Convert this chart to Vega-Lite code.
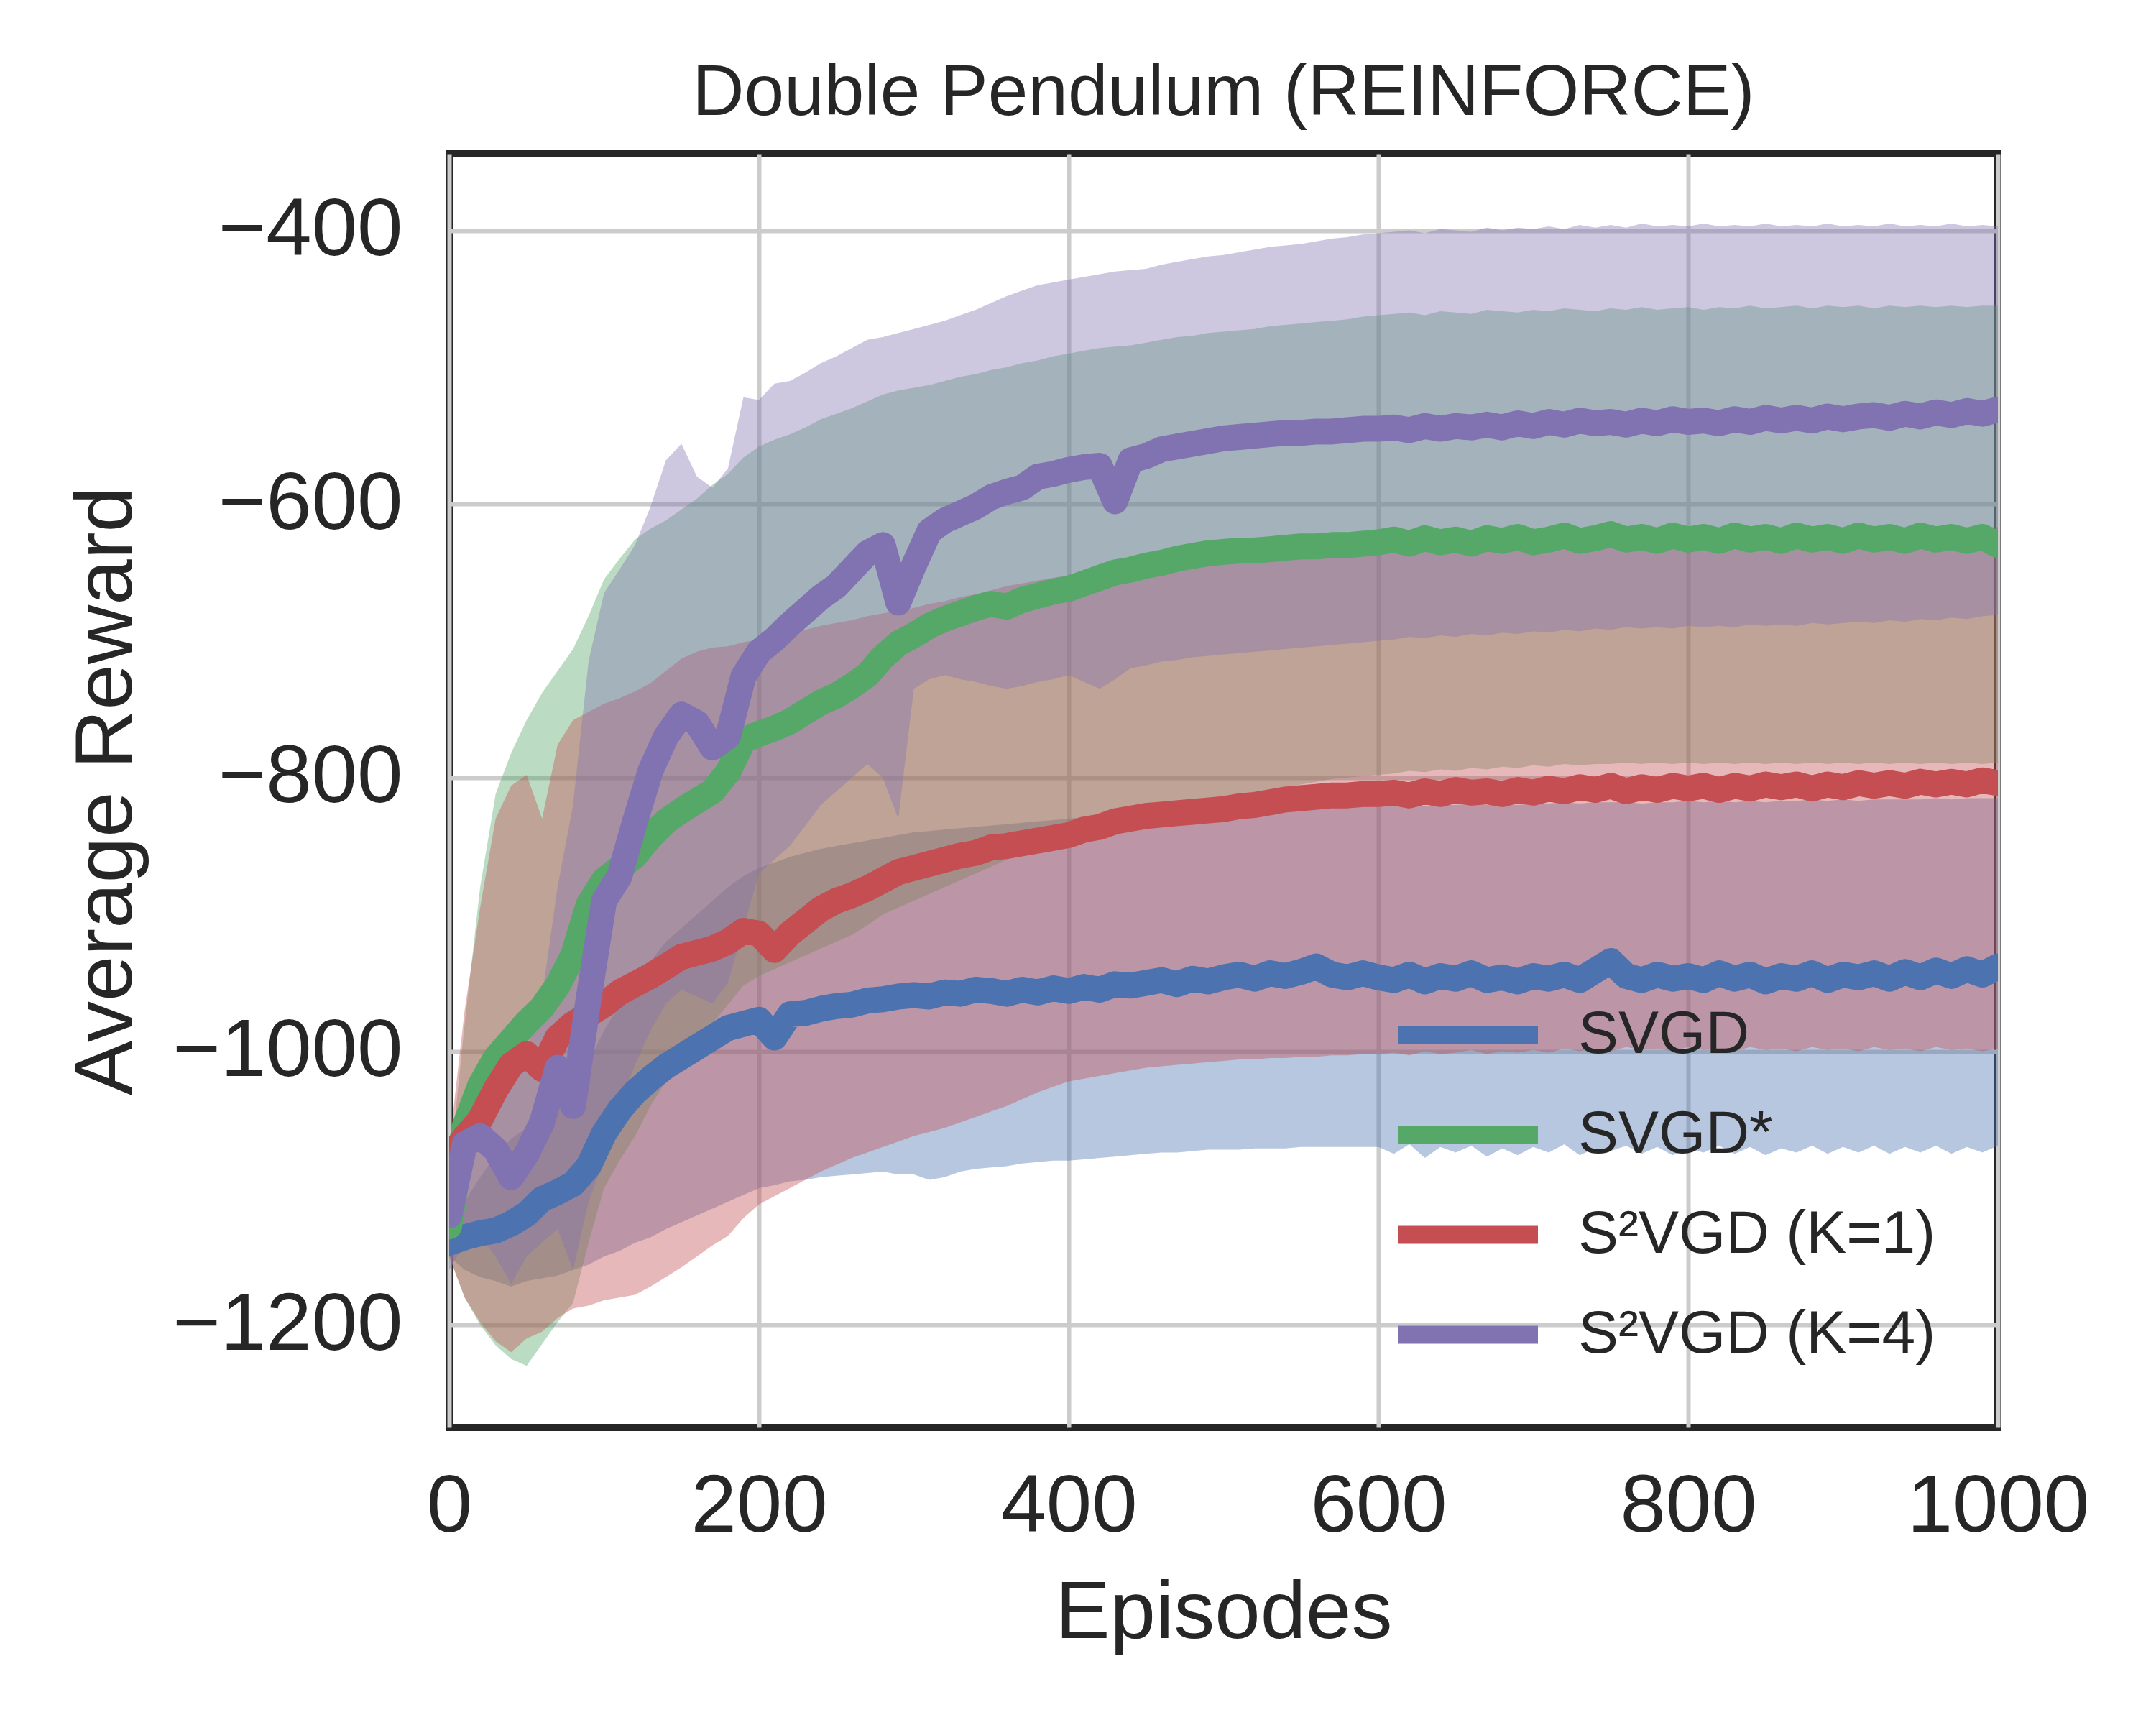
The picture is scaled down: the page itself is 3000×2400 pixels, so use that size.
{
  "$schema": "https://vega.github.io/schema/vega-lite/v6.json",
  "width": 2155,
  "height": 1772,
  "autosize": {"type": "none"},
  "padding": {"left": 625, "top": 214, "right": 220, "bottom": 414},
  "background": "white",
  "title": {
    "text": "Double Pendulum (REINFORCE)",
    "font": "Liberation Sans",
    "fontSize": 100,
    "fontWeight": "normal",
    "color": "#262626",
    "baseline": "alphabetic",
    "anchor": "middle",
    "offset": 46,
    "dy": 92
  },
  "config": {
    "view": {"stroke": "#262626", "strokeWidth": 10},
    "axis": {
      "grid": true,
      "gridColor": "#cccccc",
      "gridWidth": 6,
      "domain": false,
      "ticks": false,
      "labelLimit": 0,
      "format": "d",
      "labelFont": "Liberation Sans",
      "labelFontSize": 114,
      "labelColor": "#262626",
      "titleFont": "Liberation Sans",
      "titleFontSize": 114,
      "titleFontWeight": "normal",
      "titleColor": "#262626"
    },
    "legend": {
      "labelFont": "Liberation Sans",
      "labelFontSize": 84,
      "labelColor": "#262626",
      "labelLimit": 0,
      "symbolType": "M-1,0H8.75",
      "symbolSize": 1600,
      "symbolStrokeWidth": 25,
      "symbolOpacity": 1,
      "labelOffset": 189,
      "rowPadding": 39,
      "padding": 0
    }
  },
  "data": {
    "values": [
      {"ep":0,"svgd":-1140,"svgd_lo":-1150,"svgd_hi":-1130,"svgds":-1128,"svgds_lo":-1150,"svgds_hi":-1090,"k1":-1078,"k1_lo":-1150,"k1_hi":-1070,"k4":-1120,"k4_lo":-1160,"k4_hi":-1090},
      {"ep":10,"svgd":-1136,"svgd_lo":-1160,"svgd_hi":-1110,"svgds":-1055,"svgds_lo":-1180,"svgds_hi":-980,"k1":-1063,"k1_lo":-1180,"k1_hi":-970,"k4":-1068,"k4_lo":-1140,"k4_hi":-1030},
      {"ep":20,"svgd":-1133,"svgd_lo":-1165,"svgd_hi":-1092,"svgds":-1025,"svgds_lo":-1200,"svgds_hi":-880,"k1":-1050,"k1_lo":-1198,"k1_hi":-895,"k4":-1062,"k4_lo":-1135,"k4_hi":-1010},
      {"ep":30,"svgd":-1131,"svgd_lo":-1168,"svgd_hi":-1076,"svgds":-1005,"svgds_lo":-1215,"svgds_hi":-812,"k1":-1028,"k1_lo":-1212,"k1_hi":-830,"k4":-1072,"k4_lo":-1150,"k4_hi":-1000},
      {"ep":40,"svgd":-1126,"svgd_lo":-1172,"svgd_hi":-1064,"svgds":-992,"svgds_lo":-1225,"svgds_hi":-782,"k1":-1010,"k1_lo":-1220,"k1_hi":-806,"k4":-1092,"k4_lo":-1170,"k4_hi":-1020},
      {"ep":50,"svgd":-1119,"svgd_lo":-1168,"svgd_hi":-1056,"svgds":-979,"svgds_lo":-1230,"svgds_hi":-758,"k1":-1002,"k1_lo":-1210,"k1_hi":-798,"k4":-1075,"k4_lo":-1150,"k4_hi":-1000},
      {"ep":60,"svgd":-1108,"svgd_lo":-1166,"svgd_hi":-1045,"svgds":-968,"svgds_lo":-1214,"svgds_hi":-738,"k1":-1013,"k1_lo":-1205,"k1_hi":-830,"k4":-1052,"k4_lo":-1140,"k4_hi":-960},
      {"ep":70,"svgd":-1103,"svgd_lo":-1164,"svgd_hi":-1034,"svgds":-952,"svgds_lo":-1198,"svgds_hi":-722,"k1":-990,"k1_lo":-1195,"k1_hi":-776,"k4":-1012,"k4_lo":-1130,"k4_hi":-880},
      {"ep":80,"svgd":-1097,"svgd_lo":-1160,"svgd_hi":-1024,"svgds":-930,"svgds_lo":-1184,"svgds_hi":-706,"k1":-980,"k1_lo":-1188,"k1_hi":-758,"k4":-1040,"k4_lo":-1160,"k4_hi":-820},
      {"ep":90,"svgd":-1084,"svgd_lo":-1156,"svgd_hi":-1008,"svgds":-893,"svgds_lo":-1140,"svgds_hi":-682,"k1":-973,"k1_lo":-1186,"k1_hi":-752,"k4":-962,"k4_lo":-1110,"k4_hi":-715},
      {"ep":100,"svgd":-1060,"svgd_lo":-1150,"svgd_hi":-985,"svgds":-875,"svgds_lo":-1100,"svgds_hi":-655,"k1":-966,"k1_lo":-1182,"k1_hi":-746,"k4":-890,"k4_lo":-1080,"k4_hi":-665},
      {"ep":110,"svgd":-1043,"svgd_lo":-1146,"svgd_hi":-966,"svgds":-866,"svgds_lo":-1080,"svgds_hi":-640,"k1":-957,"k1_lo":-1180,"k1_hi":-742,"k4":-872,"k4_lo":-1040,"k4_hi":-648},
      {"ep":120,"svgd":-1030,"svgd_lo":-1140,"svgd_hi":-950,"svgds":-857,"svgds_lo":-1062,"svgds_hi":-626,"k1":-951,"k1_lo":-1178,"k1_hi":-737,"k4":-832,"k4_lo":-1010,"k4_hi":-630},
      {"ep":130,"svgd":-1020,"svgd_lo":-1136,"svgd_hi":-934,"svgds":-843,"svgds_lo":-1040,"svgds_hi":-618,"k1":-945,"k1_lo":-1172,"k1_hi":-731,"k4":-795,"k4_lo":-985,"k4_hi":-602},
      {"ep":140,"svgd":-1011,"svgd_lo":-1130,"svgd_hi":-920,"svgds":-832,"svgds_lo":-1022,"svgds_hi":-612,"k1":-938,"k1_lo":-1165,"k1_hi":-722,"k4":-770,"k4_lo":-965,"k4_hi":-568},
      {"ep":150,"svgd":-1004,"svgd_lo":-1125,"svgd_hi":-910,"svgds":-824,"svgds_lo":-1005,"svgds_hi":-604,"k1":-931,"k1_lo":-1158,"k1_hi":-713,"k4":-754,"k4_lo":-955,"k4_hi":-556},
      {"ep":160,"svgd":-997,"svgd_lo":-1120,"svgd_hi":-900,"svgds":-817,"svgds_lo":-990,"svgds_hi":-596,"k1":-928,"k1_lo":-1150,"k1_hi":-708,"k4":-760,"k4_lo":-960,"k4_hi":-580},
      {"ep":170,"svgd":-990,"svgd_lo":-1115,"svgd_hi":-890,"svgds":-810,"svgds_lo":-980,"svgds_hi":-586,"k1":-925,"k1_lo":-1142,"k1_hi":-705,"k4":-778,"k4_lo":-965,"k4_hi":-588},
      {"ep":180,"svgd":-983,"svgd_lo":-1110,"svgd_hi":-880,"svgds":-796,"svgds_lo":-966,"svgds_hi":-578,"k1":-920,"k1_lo":-1135,"k1_hi":-704,"k4":-770,"k4_lo":-950,"k4_hi":-574},
      {"ep":190,"svgd":-980,"svgd_lo":-1105,"svgd_hi":-872,"svgds":-773,"svgds_lo":-952,"svgds_hi":-566,"k1":-912,"k1_lo":-1122,"k1_hi":-701,"k4":-726,"k4_lo":-910,"k4_hi":-522},
      {"ep":200,"svgd":-977,"svgd_lo":-1100,"svgd_hi":-866,"svgds":-768,"svgds_lo":-945,"svgds_hi":-558,"k1":-914,"k1_lo":-1112,"k1_hi":-699,"k4":-708,"k4_lo":-870,"k4_hi":-524},
      {"ep":210,"svgd":-990,"svgd_lo":-1098,"svgd_hi":-862,"svgds":-764,"svgds_lo":-940,"svgds_hi":-553,"k1":-926,"k1_lo":-1106,"k1_hi":-697,"k4":-699,"k4_lo":-860,"k4_hi":-512},
      {"ep":220,"svgd":-973,"svgd_lo":-1095,"svgd_hi":-858,"svgds":-759,"svgds_lo":-935,"svgds_hi":-549,"k1":-914,"k1_lo":-1100,"k1_hi":-694,"k4":-688,"k4_lo":-850,"k4_hi":-510},
      {"ep":230,"svgd":-972,"svgd_lo":-1094,"svgd_hi":-855,"svgds":-752,"svgds_lo":-930,"svgds_hi":-544,"k1":-905,"k1_lo":-1094,"k1_hi":-692,"k4":-678,"k4_lo":-835,"k4_hi":-504},
      {"ep":240,"svgd":-969,"svgd_lo":-1092,"svgd_hi":-852,"svgds":-745,"svgds_lo":-925,"svgds_hi":-538,"k1":-896,"k1_lo":-1088,"k1_hi":-689,"k4":-668,"k4_lo":-820,"k4_hi":-497},
      {"ep":250,"svgd":-967,"svgd_lo":-1091,"svgd_hi":-850,"svgds":-740,"svgds_lo":-920,"svgds_hi":-534,"k1":-890,"k1_lo":-1083,"k1_hi":-687,"k4":-660,"k4_lo":-810,"k4_hi":-492},
      {"ep":260,"svgd":-966,"svgd_lo":-1090,"svgd_hi":-848,"svgds":-733,"svgds_lo":-915,"svgds_hi":-530,"k1":-886,"k1_lo":-1078,"k1_hi":-685,"k4":-648,"k4_lo":-800,"k4_hi":-486},
      {"ep":270,"svgd":-963,"svgd_lo":-1089,"svgd_hi":-846,"svgds":-725,"svgds_lo":-908,"svgds_hi":-525,"k1":-881,"k1_lo":-1074,"k1_hi":-682,"k4":-636,"k4_lo":-790,"k4_hi":-480},
      {"ep":280,"svgd":-962,"svgd_lo":-1088,"svgd_hi":-844,"svgds":-712,"svgds_lo":-900,"svgds_hi":-520,"k1":-875,"k1_lo":-1070,"k1_hi":-680,"k4":-630,"k4_lo":-800,"k4_hi":-478},
      {"ep":290,"svgd":-960,"svgd_lo":-1090,"svgd_hi":-842,"svgds":-702,"svgds_lo":-895,"svgds_hi":-517,"k1":-869,"k1_lo":-1066,"k1_hi":-678,"k4":-672,"k4_lo":-830,"k4_hi":-475},
      {"ep":300,"svgd":-959,"svgd_lo":-1090,"svgd_hi":-840,"svgds":-696,"svgds_lo":-890,"svgds_hi":-515,"k1":-866,"k1_lo":-1062,"k1_hi":-676,"k4":-645,"k4_lo":-735,"k4_hi":-472},
      {"ep":310,"svgd":-960,"svgd_lo":-1094,"svgd_hi":-839,"svgds":-689,"svgds_lo":-885,"svgds_hi":-513,"k1":-863,"k1_lo":-1059,"k1_hi":-673,"k4":-620,"k4_lo":-728,"k4_hi":-469},
      {"ep":320,"svgd":-957,"svgd_lo":-1092,"svgd_hi":-838,"svgds":-684,"svgds_lo":-880,"svgds_hi":-510,"k1":-860,"k1_lo":-1056,"k1_hi":-671,"k4":-612,"k4_lo":-725,"k4_hi":-466},
      {"ep":330,"svgd":-958,"svgd_lo":-1088,"svgd_hi":-837,"svgds":-680,"svgds_lo":-875,"svgds_hi":-507,"k1":-857,"k1_lo":-1052,"k1_hi":-668,"k4":-607,"k4_lo":-728,"k4_hi":-462},
      {"ep":340,"svgd":-955,"svgd_lo":-1086,"svgd_hi":-836,"svgds":-676,"svgds_lo":-870,"svgds_hi":-505,"k1":-855,"k1_lo":-1048,"k1_hi":-666,"k4":-602,"k4_lo":-730,"k4_hi":-458},
      {"ep":350,"svgd":-956,"svgd_lo":-1085,"svgd_hi":-835,"svgds":-673,"svgds_lo":-865,"svgds_hi":-502,"k1":-851,"k1_lo":-1044,"k1_hi":-663,"k4":-595,"k4_lo":-733,"k4_hi":-453},
      {"ep":360,"svgd":-958,"svgd_lo":-1084,"svgd_hi":-834,"svgds":-675,"svgds_lo":-860,"svgds_hi":-500,"k1":-850,"k1_lo":-1040,"k1_hi":-660,"k4":-591,"k4_lo":-735,"k4_hi":-448},
      {"ep":370,"svgd":-955,"svgd_lo":-1082,"svgd_hi":-833,"svgds":-670,"svgds_lo":-856,"svgds_hi":-497,"k1":-848,"k1_lo":-1035,"k1_hi":-658,"k4":-588,"k4_lo":-733,"k4_hi":-444},
      {"ep":380,"svgd":-957,"svgd_lo":-1081,"svgd_hi":-832,"svgds":-667,"svgds_lo":-852,"svgds_hi":-495,"k1":-846,"k1_lo":-1030,"k1_hi":-656,"k4":-580,"k4_lo":-730,"k4_hi":-440},
      {"ep":390,"svgd":-954,"svgd_lo":-1080,"svgd_hi":-831,"svgds":-664,"svgds_lo":-848,"svgds_hi":-492,"k1":-844,"k1_lo":-1026,"k1_hi":-654,"k4":-578,"k4_lo":-728,"k4_hi":-438},
      {"ep":400,"svgd":-956,"svgd_lo":-1080,"svgd_hi":-830,"svgds":-662,"svgds_lo":-845,"svgds_hi":-490,"k1":-842,"k1_lo":-1022,"k1_hi":-652,"k4":-575,"k4_lo":-725,"k4_hi":-436},
      {"ep":410,"svgd":-953,"svgd_lo":-1079,"svgd_hi":-829,"svgds":-658,"svgds_lo":-842,"svgds_hi":-488,"k1":-838,"k1_lo":-1020,"k1_hi":-650,"k4":-573,"k4_lo":-730,"k4_hi":-434},
      {"ep":420,"svgd":-955,"svgd_lo":-1078,"svgd_hi":-829,"svgds":-654,"svgds_lo":-839,"svgds_hi":-486,"k1":-836,"k1_lo":-1018,"k1_hi":-648,"k4":-572,"k4_lo":-735,"k4_hi":-432},
      {"ep":430,"svgd":-951,"svgd_lo":-1077,"svgd_hi":-828,"svgds":-650,"svgds_lo":-836,"svgds_hi":-485,"k1":-832,"k1_lo":-1016,"k1_hi":-646,"k4":-598,"k4_lo":-728,"k4_hi":-430},
      {"ep":440,"svgd":-952,"svgd_lo":-1076,"svgd_hi":-828,"svgds":-648,"svgds_lo":-833,"svgds_hi":-484,"k1":-830,"k1_lo":-1014,"k1_hi":-645,"k4":-568,"k4_lo":-720,"k4_hi":-429},
      {"ep":450,"svgd":-950,"svgd_lo":-1075,"svgd_hi":-827,"svgds":-645,"svgds_lo":-830,"svgds_hi":-482,"k1":-828,"k1_lo":-1012,"k1_hi":-643,"k4":-565,"k4_lo":-718,"k4_hi":-428},
      {"ep":460,"svgd":-948,"svgd_lo":-1074,"svgd_hi":-827,"svgds":-643,"svgds_lo":-827,"svgds_hi":-480,"k1":-827,"k1_lo":-1011,"k1_hi":-642,"k4":-560,"k4_lo":-715,"k4_hi":-425},
      {"ep":470,"svgd":-951,"svgd_lo":-1074,"svgd_hi":-826,"svgds":-640,"svgds_lo":-824,"svgds_hi":-478,"k1":-826,"k1_lo":-1010,"k1_hi":-641,"k4":-558,"k4_lo":-714,"k4_hi":-423},
      {"ep":480,"svgd":-947,"svgd_lo":-1073,"svgd_hi":-826,"svgds":-638,"svgds_lo":-821,"svgds_hi":-477,"k1":-825,"k1_lo":-1009,"k1_hi":-640,"k4":-556,"k4_lo":-712,"k4_hi":-421},
      {"ep":490,"svgd":-949,"svgd_lo":-1072,"svgd_hi":-825,"svgds":-636,"svgds_lo":-818,"svgds_hi":-475,"k1":-824,"k1_lo":-1008,"k1_hi":-638,"k4":-554,"k4_lo":-711,"k4_hi":-419},
      {"ep":500,"svgd":-946,"svgd_lo":-1072,"svgd_hi":-825,"svgds":-635,"svgds_lo":-815,"svgds_hi":-474,"k1":-823,"k1_lo":-1007,"k1_hi":-637,"k4":-552,"k4_lo":-710,"k4_hi":-418},
      {"ep":510,"svgd":-944,"svgd_lo":-1072,"svgd_hi":-825,"svgds":-634,"svgds_lo":-813,"svgds_hi":-473,"k1":-821,"k1_lo":-1006,"k1_hi":-636,"k4":-551,"k4_lo":-709,"k4_hi":-416},
      {"ep":520,"svgd":-947,"svgd_lo":-1071,"svgd_hi":-824,"svgds":-634,"svgds_lo":-811,"svgds_hi":-472,"k1":-820,"k1_lo":-1006,"k1_hi":-635,"k4":-550,"k4_lo":-708,"k4_hi":-414},
      {"ep":530,"svgd":-943,"svgd_lo":-1071,"svgd_hi":-824,"svgds":-633,"svgds_lo":-809,"svgds_hi":-470,"k1":-818,"k1_lo":-1005,"k1_hi":-634,"k4":-549,"k4_lo":-707,"k4_hi":-412},
      {"ep":540,"svgd":-945,"svgd_lo":-1071,"svgd_hi":-823,"svgds":-632,"svgds_lo":-807,"svgds_hi":-469,"k1":-816,"k1_lo":-1005,"k1_hi":-633,"k4":-548,"k4_lo":-706,"k4_hi":-411},
      {"ep":550,"svgd":-942,"svgd_lo":-1070,"svgd_hi":-823,"svgds":-631,"svgds_lo":-805,"svgds_hi":-468,"k1":-815,"k1_lo":-1004,"k1_hi":-632,"k4":-548,"k4_lo":-705,"k4_hi":-410},
      {"ep":560,"svgd":-938,"svgd_lo":-1070,"svgd_hi":-822,"svgds":-631,"svgds_lo":-803,"svgds_hi":-467,"k1":-814,"k1_lo":-1004,"k1_hi":-631,"k4":-547,"k4_lo":-704,"k4_hi":-408},
      {"ep":570,"svgd":-944,"svgd_lo":-1070,"svgd_hi":-822,"svgds":-630,"svgds_lo":-801,"svgds_hi":-466,"k1":-813,"k1_lo":-1003,"k1_hi":-630,"k4":-547,"k4_lo":-703,"k4_hi":-406},
      {"ep":580,"svgd":-946,"svgd_lo":-1070,"svgd_hi":-822,"svgds":-630,"svgds_lo":-800,"svgds_hi":-465,"k1":-813,"k1_lo":-1003,"k1_hi":-629,"k4":-546,"k4_lo":-702,"k4_hi":-405},
      {"ep":590,"svgd":-943,"svgd_lo":-1070,"svgd_hi":-821,"svgds":-629,"svgds_lo":-799,"svgds_hi":-463,"k1":-812,"k1_lo":-1002,"k1_hi":-629,"k4":-545,"k4_lo":-701,"k4_hi":-403},
      {"ep":600,"svgd":-946,"svgd_lo":-1070,"svgd_hi":-821,"svgds":-628,"svgds_lo":-798,"svgds_hi":-462,"k1":-812,"k1_lo":-1002,"k1_hi":-628,"k4":-545,"k4_lo":-700,"k4_hi":-402},
      {"ep":610,"svgd":-948,"svgd_lo":-1075,"svgd_hi":-821,"svgds":-626,"svgds_lo":-797,"svgds_hi":-461,"k1":-811,"k1_lo":-1001,"k1_hi":-627,"k4":-544,"k4_lo":-699,"k4_hi":-401},
      {"ep":620,"svgd":-944,"svgd_lo":-1068,"svgd_hi":-820,"svgds":-629,"svgds_lo":-795,"svgds_hi":-460,"k1":-813,"k1_lo":-1003,"k1_hi":-627,"k4":-546,"k4_lo":-697,"k4_hi":-400},
      {"ep":630,"svgd":-949,"svgd_lo":-1078,"svgd_hi":-821,"svgds":-625,"svgds_lo":-796,"svgds_hi":-462,"k1":-810,"k1_lo":-1000,"k1_hi":-626,"k4":-543,"k4_lo":-698,"k4_hi":-402},
      {"ep":640,"svgd":-945,"svgd_lo":-1070,"svgd_hi":-820,"svgds":-628,"svgds_lo":-794,"svgds_hi":-459,"k1":-812,"k1_lo":-1002,"k1_hi":-626,"k4":-545,"k4_lo":-696,"k4_hi":-399},
      {"ep":650,"svgd":-947,"svgd_lo":-1074,"svgd_hi":-820,"svgds":-626,"svgds_lo":-795,"svgds_hi":-460,"k1":-809,"k1_lo":-1001,"k1_hi":-625,"k4":-543,"k4_lo":-697,"k4_hi":-400},
      {"ep":660,"svgd":-943,"svgd_lo":-1069,"svgd_hi":-819,"svgds":-629,"svgds_lo":-793,"svgds_hi":-461,"k1":-811,"k1_lo":-999,"k1_hi":-625,"k4":-544,"k4_lo":-695,"k4_hi":-401},
      {"ep":670,"svgd":-948,"svgd_lo":-1077,"svgd_hi":-820,"svgds":-625,"svgds_lo":-794,"svgds_hi":-458,"k1":-810,"k1_lo":-1002,"k1_hi":-624,"k4":-542,"k4_lo":-696,"k4_hi":-398},
      {"ep":680,"svgd":-946,"svgd_lo":-1071,"svgd_hi":-819,"svgds":-627,"svgds_lo":-792,"svgds_hi":-459,"k1":-812,"k1_lo":-1000,"k1_hi":-624,"k4":-544,"k4_lo":-694,"k4_hi":-400},
      {"ep":690,"svgd":-949,"svgd_lo":-1076,"svgd_hi":-820,"svgds":-624,"svgds_lo":-793,"svgds_hi":-460,"k1":-809,"k1_lo":-1001,"k1_hi":-624,"k4":-541,"k4_lo":-695,"k4_hi":-398},
      {"ep":700,"svgd":-945,"svgd_lo":-1070,"svgd_hi":-819,"svgds":-628,"svgds_lo":-791,"svgds_hi":-458,"k1":-811,"k1_lo":-999,"k1_hi":-623,"k4":-543,"k4_lo":-693,"k4_hi":-399},
      {"ep":710,"svgd":-947,"svgd_lo":-1074,"svgd_hi":-819,"svgds":-626,"svgds_lo":-792,"svgds_hi":-459,"k1":-808,"k1_lo":-1001,"k1_hi":-623,"k4":-540,"k4_lo":-694,"k4_hi":-397},
      {"ep":720,"svgd":-944,"svgd_lo":-1068,"svgd_hi":-818,"svgds":-623,"svgds_lo":-790,"svgds_hi":-457,"k1":-810,"k1_lo":-998,"k1_hi":-623,"k4":-542,"k4_lo":-692,"k4_hi":-399},
      {"ep":730,"svgd":-948,"svgd_lo":-1076,"svgd_hi":-819,"svgds":-627,"svgds_lo":-791,"svgds_hi":-458,"k1":-807,"k1_lo":-1000,"k1_hi":-622,"k4":-539,"k4_lo":-693,"k4_hi":-396},
      {"ep":740,"svgd":-941,"svgd_lo":-1071,"svgd_hi":-818,"svgds":-625,"svgds_lo":-790,"svgds_hi":-459,"k1":-809,"k1_lo":-998,"k1_hi":-622,"k4":-541,"k4_lo":-691,"k4_hi":-398},
      {"ep":750,"svgd":-934,"svgd_lo":-1073,"svgd_hi":-818,"svgds":-622,"svgds_lo":-790,"svgds_hi":-457,"k1":-806,"k1_lo":-1000,"k1_hi":-622,"k4":-540,"k4_lo":-692,"k4_hi":-396},
      {"ep":760,"svgd":-945,"svgd_lo":-1069,"svgd_hi":-818,"svgds":-626,"svgds_lo":-789,"svgds_hi":-458,"k1":-810,"k1_lo":-997,"k1_hi":-621,"k4":-542,"k4_lo":-690,"k4_hi":-398},
      {"ep":770,"svgd":-948,"svgd_lo":-1075,"svgd_hi":-819,"svgds":-624,"svgds_lo":-790,"svgds_hi":-456,"k1":-807,"k1_lo":-999,"k1_hi":-621,"k4":-539,"k4_lo":-691,"k4_hi":-395},
      {"ep":780,"svgd":-944,"svgd_lo":-1070,"svgd_hi":-818,"svgds":-627,"svgds_lo":-789,"svgds_hi":-458,"k1":-809,"k1_lo":-998,"k1_hi":-621,"k4":-541,"k4_lo":-690,"k4_hi":-397},
      {"ep":790,"svgd":-947,"svgd_lo":-1076,"svgd_hi":-818,"svgds":-623,"svgds_lo":-790,"svgds_hi":-457,"k1":-806,"k1_lo":-1000,"k1_hi":-620,"k4":-538,"k4_lo":-691,"k4_hi":-396},
      {"ep":800,"svgd":-945,"svgd_lo":-1071,"svgd_hi":-817,"svgds":-626,"svgds_lo":-789,"svgds_hi":-456,"k1":-808,"k1_lo":-997,"k1_hi":-620,"k4":-540,"k4_lo":-689,"k4_hi":-397},
      {"ep":810,"svgd":-948,"svgd_lo":-1074,"svgd_hi":-818,"svgds":-624,"svgds_lo":-790,"svgds_hi":-458,"k1":-806,"k1_lo":-999,"k1_hi":-620,"k4":-539,"k4_lo":-690,"k4_hi":-395},
      {"ep":820,"svgd":-943,"svgd_lo":-1069,"svgd_hi":-817,"svgds":-627,"svgds_lo":-789,"svgds_hi":-456,"k1":-809,"k1_lo":-998,"k1_hi":-620,"k4":-541,"k4_lo":-689,"k4_hi":-397},
      {"ep":830,"svgd":-947,"svgd_lo":-1075,"svgd_hi":-818,"svgds":-623,"svgds_lo":-790,"svgds_hi":-457,"k1":-806,"k1_lo":-1000,"k1_hi":-620,"k4":-538,"k4_lo":-690,"k4_hi":-396},
      {"ep":840,"svgd":-944,"svgd_lo":-1070,"svgd_hi":-817,"svgds":-626,"svgds_lo":-789,"svgds_hi":-455,"k1":-808,"k1_lo":-997,"k1_hi":-619,"k4":-540,"k4_lo":-688,"k4_hi":-397},
      {"ep":850,"svgd":-949,"svgd_lo":-1076,"svgd_hi":-818,"svgds":-624,"svgds_lo":-790,"svgds_hi":-457,"k1":-805,"k1_lo":-999,"k1_hi":-619,"k4":-537,"k4_lo":-689,"k4_hi":-395},
      {"ep":860,"svgd":-945,"svgd_lo":-1071,"svgd_hi":-817,"svgds":-627,"svgds_lo":-789,"svgds_hi":-456,"k1":-807,"k1_lo":-998,"k1_hi":-619,"k4":-539,"k4_lo":-688,"k4_hi":-397},
      {"ep":870,"svgd":-947,"svgd_lo":-1074,"svgd_hi":-817,"svgds":-623,"svgds_lo":-790,"svgds_hi":-455,"k1":-805,"k1_lo":-1000,"k1_hi":-619,"k4":-537,"k4_lo":-689,"k4_hi":-396},
      {"ep":880,"svgd":-943,"svgd_lo":-1069,"svgd_hi":-816,"svgds":-626,"svgds_lo":-789,"svgds_hi":-457,"k1":-808,"k1_lo":-997,"k1_hi":-619,"k4":-539,"k4_lo":-687,"k4_hi":-397},
      {"ep":890,"svgd":-948,"svgd_lo":-1075,"svgd_hi":-817,"svgds":-624,"svgds_lo":-790,"svgds_hi":-455,"k1":-805,"k1_lo":-999,"k1_hi":-618,"k4":-536,"k4_lo":-688,"k4_hi":-395},
      {"ep":900,"svgd":-944,"svgd_lo":-1070,"svgd_hi":-816,"svgds":-627,"svgds_lo":-789,"svgds_hi":-456,"k1":-807,"k1_lo":-998,"k1_hi":-618,"k4":-538,"k4_lo":-687,"k4_hi":-397},
      {"ep":910,"svgd":-946,"svgd_lo":-1074,"svgd_hi":-817,"svgds":-623,"svgds_lo":-790,"svgds_hi":-455,"k1":-804,"k1_lo":-1000,"k1_hi":-618,"k4":-536,"k4_lo":-686,"k4_hi":-396},
      {"ep":920,"svgd":-943,"svgd_lo":-1069,"svgd_hi":-816,"svgds":-626,"svgds_lo":-789,"svgds_hi":-457,"k1":-806,"k1_lo":-997,"k1_hi":-618,"k4":-535,"k4_lo":-687,"k4_hi":-397},
      {"ep":930,"svgd":-947,"svgd_lo":-1075,"svgd_hi":-816,"svgds":-624,"svgds_lo":-790,"svgds_hi":-455,"k1":-804,"k1_lo":-999,"k1_hi":-618,"k4":-537,"k4_lo":-685,"k4_hi":-395},
      {"ep":940,"svgd":-942,"svgd_lo":-1070,"svgd_hi":-816,"svgds":-627,"svgds_lo":-789,"svgds_hi":-456,"k1":-806,"k1_lo":-998,"k1_hi":-618,"k4":-534,"k4_lo":-686,"k4_hi":-397},
      {"ep":950,"svgd":-946,"svgd_lo":-1074,"svgd_hi":-816,"svgds":-623,"svgds_lo":-790,"svgds_hi":-455,"k1":-803,"k1_lo":-1000,"k1_hi":-617,"k4":-536,"k4_lo":-684,"k4_hi":-396},
      {"ep":960,"svgd":-941,"svgd_lo":-1069,"svgd_hi":-815,"svgds":-626,"svgds_lo":-789,"svgds_hi":-456,"k1":-805,"k1_lo":-997,"k1_hi":-617,"k4":-533,"k4_lo":-685,"k4_hi":-397},
      {"ep":970,"svgd":-945,"svgd_lo":-1075,"svgd_hi":-816,"svgds":-624,"svgds_lo":-790,"svgds_hi":-455,"k1":-803,"k1_lo":-999,"k1_hi":-617,"k4":-535,"k4_lo":-683,"k4_hi":-395},
      {"ep":980,"svgd":-940,"svgd_lo":-1070,"svgd_hi":-815,"svgds":-627,"svgds_lo":-789,"svgds_hi":-456,"k1":-805,"k1_lo":-998,"k1_hi":-617,"k4":-532,"k4_lo":-684,"k4_hi":-397},
      {"ep":990,"svgd":-944,"svgd_lo":-1074,"svgd_hi":-815,"svgds":-624,"svgds_lo":-790,"svgds_hi":-455,"k1":-802,"k1_lo":-1000,"k1_hi":-617,"k4":-534,"k4_lo":-682,"k4_hi":-396},
      {"ep":1000,"svgd":-938,"svgd_lo":-1069,"svgd_hi":-815,"svgds":-630,"svgds_lo":-789,"svgds_hi":-455,"k1":-804,"k1_lo":-998,"k1_hi":-617,"k4":-531,"k4_lo":-681,"k4_hi":-397}
    ]
  },
  "encoding": {
    "x": {
      "field": "ep",
      "type": "quantitative",
      "scale": {"domain": [0, 1000], "nice": false},
      "axis": {
        "title": "Episodes",
        "values": [0, 200, 400, 600, 800, 1000],
        "labelFlush": false,
        "labelPadding": 54,
        "titlePadding": 35
      }
    }
  },
  "layer": [
    {
      "mark": {"type": "area", "fillOpacity": 0.4, "clip": true},
      "encoding": {
        "y": {
          "field": "svgd_lo",
          "type": "quantitative",
          "scale": {"domain": [-1275, -344], "nice": false, "zero": false},
          "axis": {
            "title": "Average Reward",
            "values": [-1200, -1000, -800, -600, -400],
            "labelPadding": 65,
            "titleX": -443,
            "titleY": 886,
            "titleAngle": 270,
            "titleAlign": "center",
            "titleBaseline": "alphabetic"
          }
        },
        "y2": {"field": "svgd_hi"},
        "color": {
          "datum": "SVGD",
          "type": "nominal",
          "scale": {
            "domain": ["SVGD", "SVGD*", "S²VGD (K=1)", "S²VGD (K=4)"],
            "range": ["#4C72B0", "#55A868", "#C44E52", "#8172B2"]
          }
        }
      }
    },
    {
      "mark": {"type": "area", "fillOpacity": 0.4, "clip": true},
      "encoding": {
        "y": {"field": "svgds_lo", "type": "quantitative"},
        "y2": {"field": "svgds_hi"},
        "color": {"datum": "SVGD*", "type": "nominal"}
      }
    },
    {
      "mark": {"type": "area", "fillOpacity": 0.4, "clip": true},
      "encoding": {
        "y": {"field": "k1_lo", "type": "quantitative"},
        "y2": {"field": "k1_hi"},
        "color": {"datum": "S²VGD (K=1)", "type": "nominal"}
      }
    },
    {
      "mark": {"type": "area", "fillOpacity": 0.4, "clip": true},
      "encoding": {
        "y": {"field": "k4_lo", "type": "quantitative"},
        "y2": {"field": "k4_hi"},
        "color": {"datum": "S²VGD (K=4)", "type": "nominal"}
      }
    },
    {
      "mark": {"type": "line", "strokeWidth": 36, "strokeJoin": "round", "strokeCap": "round", "clip": true},
      "encoding": {
        "y": {"field": "svgd", "type": "quantitative"},
        "color": {
          "datum": "SVGD",
          "type": "nominal",
          "legend": {"orient": "none", "legendX": 1298, "legendY": 1184, "title": null}
        }
      }
    },
    {
      "mark": {"type": "line", "strokeWidth": 36, "strokeJoin": "round", "strokeCap": "round", "clip": true},
      "encoding": {
        "y": {"field": "svgds", "type": "quantitative"},
        "color": {"datum": "SVGD*", "type": "nominal"}
      }
    },
    {
      "mark": {"type": "line", "strokeWidth": 36, "strokeJoin": "round", "strokeCap": "round", "clip": true},
      "encoding": {
        "y": {"field": "k1", "type": "quantitative"},
        "color": {"datum": "S²VGD (K=1)", "type": "nominal"}
      }
    },
    {
      "mark": {"type": "line", "strokeWidth": 36, "strokeJoin": "round", "strokeCap": "round", "clip": true},
      "encoding": {
        "y": {"field": "k4", "type": "quantitative"},
        "color": {"datum": "S²VGD (K=4)", "type": "nominal"}
      }
    }
  ]
}
